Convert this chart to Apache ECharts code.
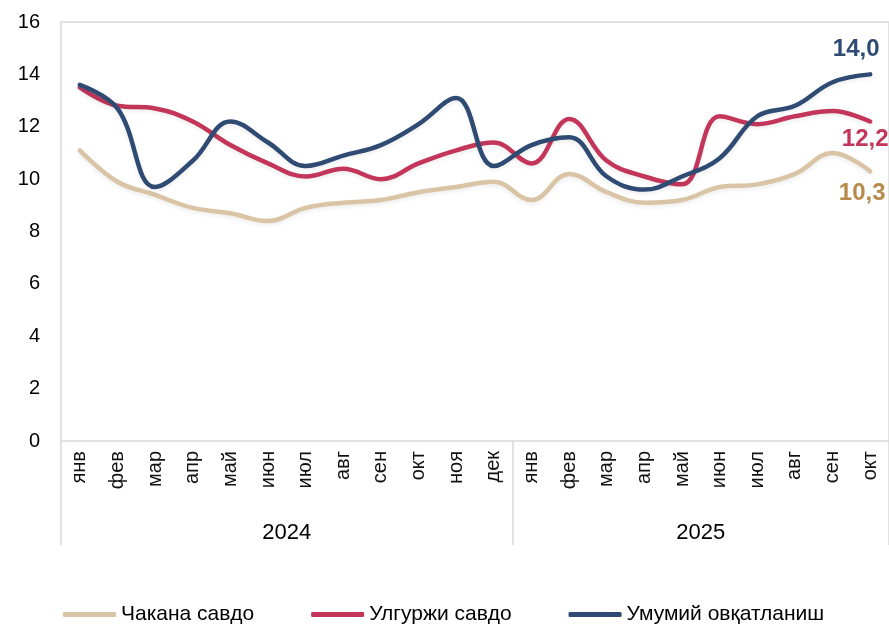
<!DOCTYPE html>
<html>
<head>
<meta charset="utf-8">
<script src="https://cdn.jsdelivr.net/npm/echarts@6/dist/echarts.min.js"></script>
<style>html,body{margin:0;padding:0;background:#fff}#c{width:889px;height:624px}</style>
</head>
<body>
<div id="c"></div>
<script>
const months = ['янв','фев','мар','апр','май','июн','июл','авг','сен','окт','ноя','дек',
                'янв','фев','мар','апр','май','июн','июл','авг','сен','окт'];
const years = ['2024','2025'];
const seriesNames = ['Чакана савдо','Улгуржи савдо','Умумий овқатланиш'];
const retail =    [11.1, 9.9, 9.4, 8.9, 8.7, 8.4, 8.9, 9.1, 9.2, 9.5, 9.7, 9.9,
                   9.2, 10.2, 9.5, 9.1, 9.2, 9.7, 9.8, 10.2, 11.0, 10.3];
const wholesale = [13.5, 12.8, 12.7, 12.2, 11.3, 10.6, 10.1, 10.4, 10.0, 10.6, 11.1, 11.4,
                   10.6, 12.3, 10.7, 10.1, 9.8, 12.4, 12.1, 12.4, 12.6, 12.2];
const catering =  [13.6, 12.7, 9.7, 10.7, 12.2, 11.4, 10.5, 10.9, 11.3, 12.1, 13.1, 10.5,
                   11.3, 11.6, 10.1, 9.6, 10.1, 10.8, 12.4, 12.8, 13.7, 14.0];
const yTicks = [0, 2, 4, 6, 8, 10, 12, 14, 16];

const colors = ['#D9C4A6', '#C3365A', '#2F4B73'];
const labelColors = ['#B88A4A', '#C3365A', '#2F4B73'];
const labelOffsets = [[-8, 22], [-5, 18], [-14, -25]];
const FONT = 'Liberation Sans, Arial, sans-serif';

const dataSets = [retail, wholesale, catering];
const chart = echarts.init(document.getElementById('c'), null, {renderer: 'canvas'});
chart.setOption({
  animation: false,
  color: colors,
  grid: {left: 61, right: -4, top: 22, bottom: 183, show: true, borderColor: '#d9d9d9', borderWidth: 1.5},
  legend: {
    data: seriesNames,
    left: 58, top: 599,
    icon: 'roundRect',
    itemWidth: 53, itemHeight: 5,
    itemGap: 57,
    textStyle: {fontSize: 21, fontFamily: FONT, color: '#000'}
  },
  xAxis: [{
    type: 'category',
    data: months,
    boundaryGap: true,
    axisLine: {show: false},
    axisTick: {show: false},
    axisLabel: {rotate: 90, fontSize: 20, fontFamily: FONT, color: '#111', margin: 10, interval: 0}
  }, {
    type: 'value',
    min: 0, max: 22,
    position: 'bottom',
    axisLine: {show: false},
    splitLine: {show: false},
    axisTick: {show: true, customValues: [0, 12, 22], length: 104, lineStyle: {color: '#d9d9d9', width: 1.5}},
    axisLabel: {
      customValues: [6, 17],
      formatter: v => (v === 6 ? years[0] : years[1]),
      fontSize: 22, fontFamily: FONT, color: '#000', margin: 81
    }
  }],
  yAxis: {
    type: 'value',
    min: yTicks[0], max: yTicks[yTicks.length - 1], interval: 2,
    axisLine: {show: false},
    axisTick: {show: false},
    splitLine: {show: false},
    axisLabel: {fontSize: 20, fontFamily: FONT, color: '#000', margin: 21}
  },
  series: dataSets.map((d, i) => ({
    name: seriesNames[i],
    type: 'line',
    xAxisIndex: 0,
    data: d,
    smooth: 0.4,
    showSymbol: false,
    symbol: 'none',
    lineStyle: {width: 4.5, color: colors[i], shadowColor: 'rgba(0,0,0,0.08)', shadowBlur: 4, shadowOffsetY: 2, cap: 'round'},
    endLabel: {
      show: true,
      distance: 0,
      offset: labelOffsets[i],
      align: 'center',
      verticalAlign: 'middle',
      color: labelColors[i],
      fontSize: 24,
      fontWeight: 'bold',
      fontFamily: FONT,
      formatter: p => Number(p.value).toFixed(1).replace('.', ',')
    },
    z: i + 2
  }))
});
</script>
</body>
</html>
